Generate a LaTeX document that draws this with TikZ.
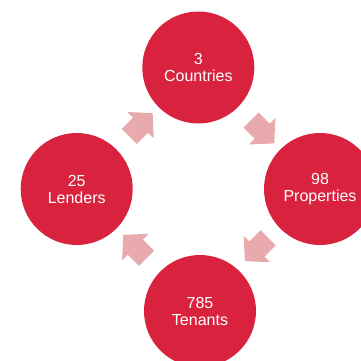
\documentclass[tikz,border=0pt]{standalone}
\usepackage{fontspec}
\setmainfont{Liberation Sans}
\usetikzlibrary{shapes.arrows,calc}
\definecolor{circred}{RGB}{217,35,62}
\definecolor{arrowpink}{RGB}{233,170,174}
\tikzset{
  stat/.style={circle, fill=circred, minimum size=112pt, inner sep=0pt,
    text=white, align=center, font=\fontsize{16}{17}\selectfont},
  cyclearrow/.style={single arrow, fill=arrowpink, inner xsep=0pt, inner ysep=10.5pt,
    single arrow head extend=8pt, single arrow tip angle=95,
    minimum height=33pt, anchor=center}
}
\begin{document}
\begin{tikzpicture}[x=1pt,y=-1pt]
\useasboundingbox (0,0) rectangle (361,361);
\clip (0,0) rectangle (361,361);
\node[stat] (countries) at (198.3,67.5) {3\\Countries};
\node[stat] (properties) at (320,189) {98\\Properties};
\node[stat] (tenants) at (200,311) {785\\Tenants};
\node[stat] (lenders) at (76.7,189) {25\\Lenders};
\node[cyclearrow, rotate=-45] (a1) at ($(countries)!0.5!(properties)$) {};
\node[cyclearrow, rotate=-135] (a2) at ($(properties)!0.5!(tenants)+(0,-4)$) {};
\node[cyclearrow, rotate=135] (a3) at ($(tenants)!0.5!(lenders)$) {};
\node[cyclearrow, rotate=45] (a4) at ($(lenders)!0.5!(countries)$) {};
\end{tikzpicture}
\end{document}
